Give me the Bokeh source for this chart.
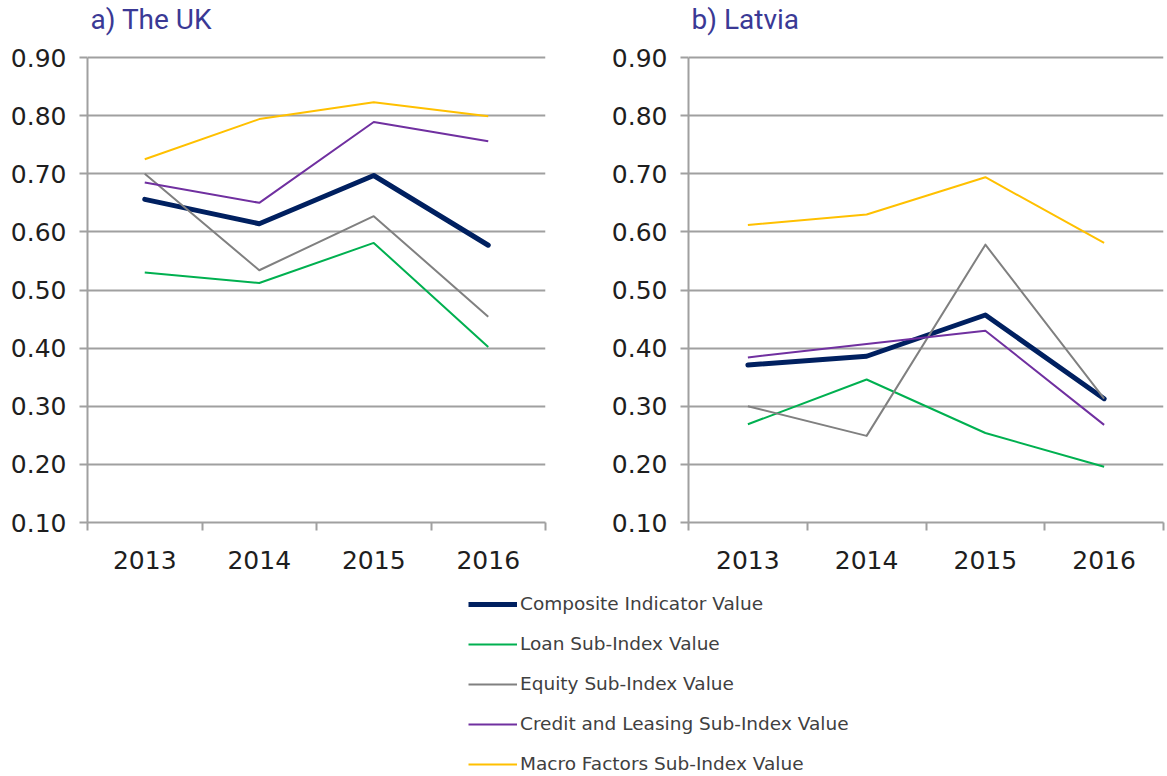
from bokeh.plotting import figure
from bokeh.layouts import column, row
from bokeh.models import Range1d, FixedTicker, PrintfTickFormatter, Legend, LegendItem, Label
from bokeh.embed import file_html
from bokeh.resources import INLINE

# ---------------- data ----------------
years = ["2013", "2014", "2015", "2016"]
series_names = [
    "Composite Indicator Value",
    "Loan Sub-Index Value",
    "Equity Sub-Index Value",
    "Credit and Leasing Sub-Index Value",
    "Macro Factors Sub-Index Value",
]
uk_composite = [0.656, 0.614, 0.697, 0.577]
uk_loan = [0.530, 0.512, 0.581, 0.402]
uk_equity = [0.700, 0.534, 0.627, 0.454]
uk_credit = [0.685, 0.650, 0.789, 0.756]
uk_macro = [0.725, 0.794, 0.823, 0.799]

lv_composite = [0.371, 0.386, 0.457, 0.313]
lv_loan = [0.269, 0.346, 0.254, 0.196]
lv_equity = [0.300, 0.249, 0.578, 0.313]
lv_credit = [0.384, 0.407, 0.430, 0.268]
lv_macro = [0.612, 0.630, 0.694, 0.581]

y_ticks = [0.1, 0.2, 0.3, 0.4, 0.5, 0.6, 0.7, 0.8, 0.9]
y_min, y_max = 0.1, 0.9

# ---------------- style ----------------
colors = ["#002060", "#00b050", "#808080", "#7030a0", "#ffc000"]
widths = [5, 2, 2, 2, 2]
FONT = "DejaVu Sans"
GRID = "#a0a0a0"
TXT = "#1e1e1e"
TITLE_C = "#3a3995"

# layout (pixels): data area 465 px tall, 57 px of head room above it
DATA_H = 465
HEAD = 57
y_top = y_max + HEAD / DATA_H * (y_max - y_min)

xs = [i + 0.5 for i in range(len(years))]


def make_panel(title, data, width, border_left, border_right):
    p = figure(width=width, height=576, output_backend="svg", toolbar_location=None,
               x_range=Range1d(0, len(years)), y_range=Range1d(y_min, y_top),
               min_border_left=border_left, min_border_right=border_right,
               min_border_top=0, min_border_bottom=54)
    p.outline_line_color = None
    p.background_fill_color = "white"
    p.border_fill_color = "white"

    for vals, c, w in zip(data, colors, widths):
        cap = "round" if w > 3 else "butt"
        p.line(xs, vals, line_color=c, line_width=w, line_cap=cap, line_join="round")

    # x axis: labels at centres, ticks at category boundaries
    xa = p.xaxis[0]
    xa.ticker = FixedTicker(ticks=xs, minor_ticks=list(range(len(years) + 1)))
    xa.major_label_overrides = {x: y for x, y in zip(xs, years)}
    xa.major_tick_out = 0
    xa.major_tick_in = 0
    xa.minor_tick_out = 8
    xa.minor_tick_in = 0
    xa.minor_tick_line_color = GRID
    xa.minor_tick_line_width = 2
    xa.axis_line_color = GRID
    xa.axis_line_width = 2
    xa.major_label_text_font = FONT
    xa.major_label_text_font_size = "25px"
    xa.major_label_text_color = TXT
    xa.major_label_standoff = 20

    ya = p.yaxis[0]
    ya.ticker = FixedTicker(ticks=y_ticks)
    ya.formatter = PrintfTickFormatter(format="%.2f")
    ya.bounds = (y_min, y_max)
    ya.major_tick_out = 8
    ya.major_tick_in = 0
    ya.minor_tick_line_color = None
    ya.major_tick_line_color = GRID
    ya.major_tick_line_width = 2
    ya.axis_line_color = GRID
    ya.axis_line_width = 2
    ya.major_label_text_font = FONT
    ya.major_label_text_font_size = "25px"
    ya.major_label_text_color = TXT
    ya.major_label_standoff = 13

    p.xgrid.grid_line_color = None
    p.ygrid.ticker = FixedTicker(ticks=y_ticks)
    p.ygrid.grid_line_color = GRID
    p.ygrid.grid_line_width = 2

    p.add_layout(Label(x=0, y=y_max, x_offset=3, y_offset=38, text=title,
                       text_font="Roboto", text_font_size="28px", text_color=TITLE_C,
                       text_baseline="alphabetic", text_align="left"))
    return p


p1 = make_panel("a) The UK", [uk_composite, uk_loan, uk_equity, uk_credit, uk_macro],
                588, 87, 43)
p2 = make_panel("b) Latvia", [lv_composite, lv_loan, lv_equity, lv_credit, lv_macro],
                577, 100, 2)

# ---------------- legend panel ----------------
p3 = figure(width=1165, height=198, output_backend="svg", toolbar_location=None,
            x_range=Range1d(0, len(years)), y_range=Range1d(5, 6),
            min_border=0)
p3.axis.visible = False
p3.grid.visible = False
p3.outline_line_color = None
items = []
for name, vals, c, w in zip(series_names,
                            [uk_composite, uk_loan, uk_equity, uk_credit, uk_macro],
                            colors, widths):
    r = p3.line(xs, vals, line_color=c, line_width=w)
    items.append(LegendItem(label=name, renderers=[r]))

leg = Legend(items=items, location=(468, 0), orientation="vertical",
             glyph_width=49, glyph_height=20, spacing=19, label_standoff=3,
             padding=0, margin=0, border_line_color=None, background_fill_alpha=0,
             label_text_font=FONT, label_text_font_size="18.5px", label_text_color="#404040")
p3.add_layout(leg)

layout = column(row(p1, p2), p3)
open("out.html", "w").write(file_html(layout, INLINE))
